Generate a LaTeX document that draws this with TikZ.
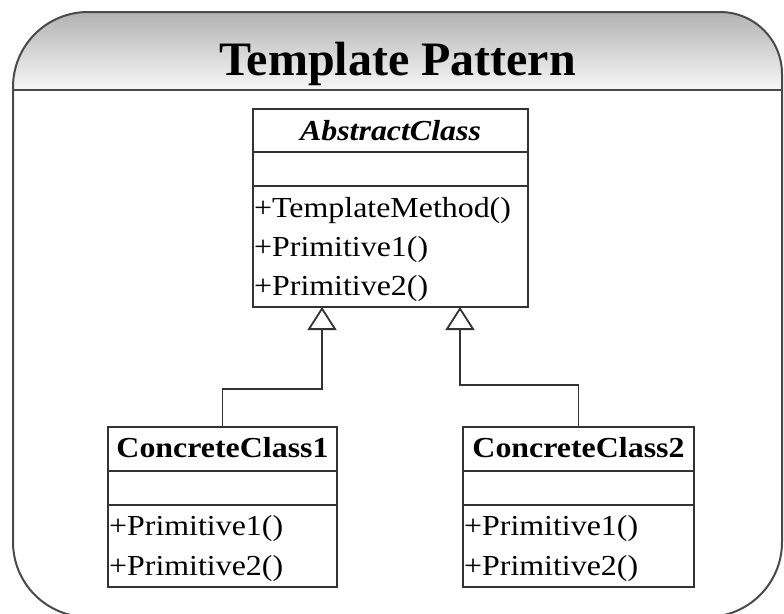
\documentclass[tikz,border=0pt]{standalone}
\usepackage{fontspec}
\setmainfont{Liberation Serif}
\newfontfamily\clsfont{Liberation Serif}[FakeStretch=1.1]
\usetikzlibrary{arrows.meta}
\definecolor{linec}{HTML}{333333}
\definecolor{framec}{HTML}{4A4A4A}
\tikzset{
  classbox/.style={draw=linec, line width=1.8pt, rectangle, inner sep=0pt, fill=white},
  divider/.style={draw=linec, line width=1.8pt},
  clsname/.style={font=\clsfont\fontsize{29}{34}\selectfont\bfseries, inner sep=0pt, anchor=base},
  clsabs/.style={font=\clsfont\fontsize{29}{34}\selectfont\bfseries\itshape, inner sep=0pt, anchor=base},
  clsop/.style={font=\clsfont\fontsize{29}{34}\selectfont, inner sep=0pt, anchor=base west},
  inherit/.style={draw=linec, line width=1.8pt, -{Triangle[open, length=23pt, width=29pt, line width=1.8pt]}},
}
\begin{document}
\begin{tikzpicture}[x=1pt, y=-1pt]
\useasboundingbox (0,0) rectangle (784,613);
\clip (0,0) rectangle (784,613);
% title band
\begin{scope}
  \clip (13,617) [rounded corners=75pt] -- (13,12) [rounded corners=62pt] -- (782,12) [rounded corners=75pt] -- (782,617) -- cycle;
  \shade[top color=black!30, bottom color=black!3] (0,12) rectangle (784,90);
\end{scope}
\draw[framec, line width=2pt] (13,617) [rounded corners=75pt] -- (13,12) [rounded corners=62pt] -- (782,12) [rounded corners=75pt] -- (782,617) -- cycle;
\coordinate (tl) at (13,90);
\coordinate (tr) at (782,90);
\draw[framec, line width=2pt] (tl) -- (tr);
\node[font=\fontsize{48}{56}\selectfont\bfseries, inner sep=0pt, anchor=base] (title) at (397.5,75) {Template Pattern};

% AbstractClass
\node[classbox, minimum width=275pt, minimum height=198pt] (ac) at (390.5,208) {};
\draw[divider] (ac.north west) ++(0,44) -- ++(275,0);
\draw[divider] (ac.north west) ++(0,78) -- ++(275,0);
\node[clsabs] (acn) at (390.5,140) {AbstractClass};
\node[clsop] (ac1) at (254,217) {+TemplateMethod()};
\node[clsop] (ac2) at (254,256) {+Primitive1()};
\node[clsop] (ac3) at (254,295) {+Primitive2()};

% ConcreteClass1
\node[classbox, minimum width=229pt, minimum height=160pt] (cc1) at (222.5,507) {};
\draw[divider] (cc1.north west) ++(0,45) -- ++(229,0);
\draw[divider] (cc1.north west) ++(0,79) -- ++(229,0);
\node[clsname] (cc1n) at (222.5,457) {ConcreteClass1};
\node[clsop] (cc1a) at (109,535) {+Primitive1()};
\node[clsop] (cc1b) at (109,575) {+Primitive2()};

% ConcreteClass2
\node[classbox, minimum width=231pt, minimum height=160pt] (cc2) at (578.5,507) {};
\draw[divider] (cc2.north west) ++(0,45) -- ++(231,0);
\draw[divider] (cc2.north west) ++(0,79) -- ++(231,0);
\node[clsname] (cc2n) at (578.5,457) {ConcreteClass2};
\node[clsop] (cc2a) at (464,535) {+Primitive1()};
\node[clsop] (cc2b) at (464,575) {+Primitive2()};

% inheritance connectors
\coordinate (t1) at (322,307);
\coordinate (t2) at (460,307);
\draw[inherit] (cc1.north) -- ++(0,-37) -| (t1);
\draw[inherit] (cc2.north) -- ++(0,-41) -| (t2);
\end{tikzpicture}
\end{document}
